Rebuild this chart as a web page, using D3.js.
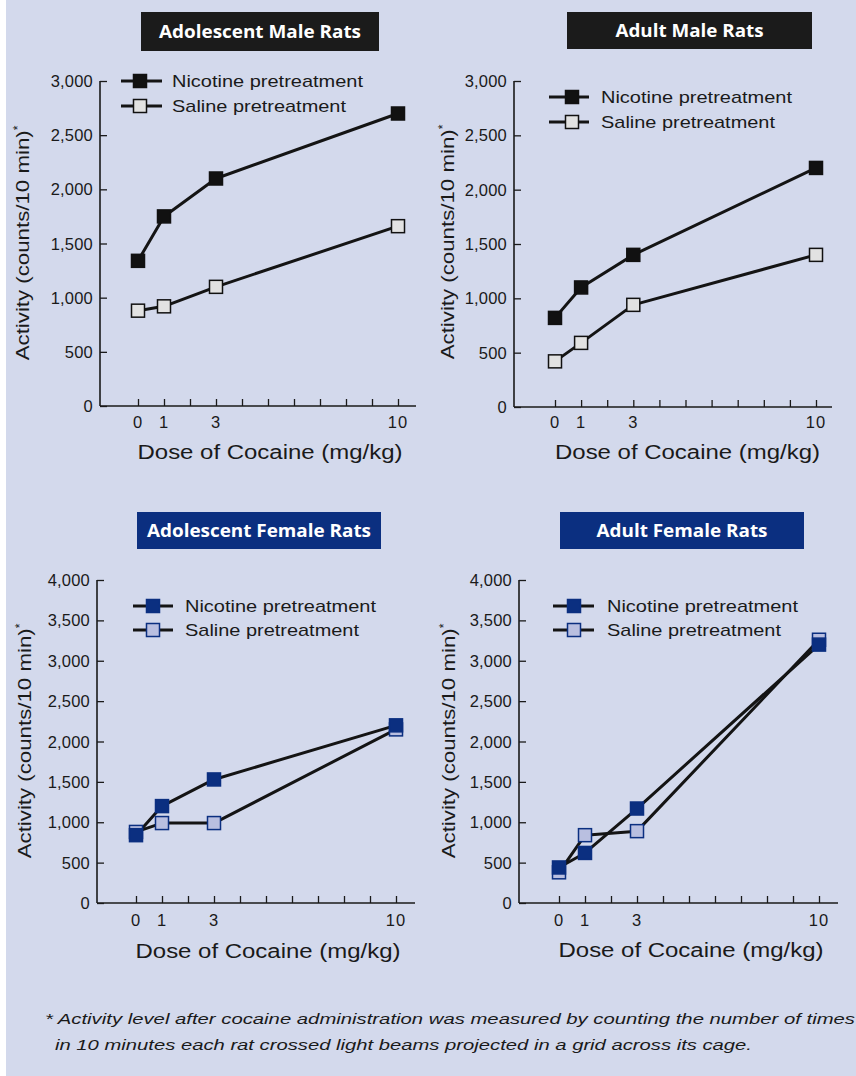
<!DOCTYPE html>
<html>
<head>
<meta charset="utf-8">
<script src="https://cdn.jsdelivr.net/npm/d3@7"></script>
<style>
  html, body { margin: 0; padding: 0; background: #ffffff; }
  svg { display: block; }
  text { font-family: "Liberation Sans", Arial, Helvetica, sans-serif; }
</style>
</head>
<body>
<svg id="chart" width="856" height="1076"></svg>
<script>
// ---------------- DATA ----------------
const doses = [0, 1, 3, 10];
const xTickValues = [0, 1, 2, 3, 4, 5, 6, 7, 8, 9, 10];
const xTickLabels = [0, 1, 3, 10];
const yTicksMale = [0, 500, 1000, 1500, 2000, 2500, 3000];
const yTicksFemale = [0, 500, 1000, 1500, 2000, 2500, 3000, 3500, 4000];
const seriesNames = ["Nicotine pretreatment", "Saline pretreatment"];
const panelTitles = ["Adolescent Male Rats", "Adult Male Rats", "Adolescent Female Rats", "Adult Female Rats"];

const adolescentMaleNicotine = [1340, 1750, 2100, 2700];
const adolescentMaleSaline   = [880, 920, 1100, 1660];
const adultMaleNicotine      = [820, 1100, 1400, 2200];
const adultMaleSaline        = [420, 590, 940, 1400];
const adolescentFemaleNicotine = [840, 1200, 1530, 2200];
const adolescentFemaleSaline   = [880, 990, 990, 2150];
const adultFemaleNicotine    = [440, 620, 1170, 3200];
const adultFemaleSaline      = [380, 840, 890, 3260];

const yAxisTitle = "Activity (counts/10 min)";
const xAxisTitle = "Dose of Cocaine (mg/kg)";
const footnote = [
  "* Activity level after cocaine administration was measured by counting the number of times",
  "in 10 minutes each rat crossed light beams projected in a grid across its cage."
];

// ---------------- LAYOUT / STYLE ----------------
const BG = "#d3d9ec";
const maleStyle = { box: "#1b1b1b", nic: "#111111", nicStroke: "#111111", sal: "#e2e2e2", salStroke: "#111111" };
const femaleStyle = { box: "#0b2f80", nic: "#0b2f80", nicStroke: "#0b2f80", sal: "#b9bfe0", salStroke: "#0b2f80" };

const panels = [
  { title: panelTitles[0], nic: adolescentMaleNicotine, sal: adolescentMaleSaline, yTicks: yTicksMale, yMax: 3000, style: maleStyle,
    axisX: 100, x0: 138, x10: 398, axisEnd: 416, yTop: 81, yBot: 406,
    box: [141, 12, 238, 39], titleW: 202,
    leg: { x1: 121, x2: 162, mx: 140, y1: 81, y2: 106, tx: 172 },
    yLabX: 29, yLabY: 239, xLabY: 459, xTickY: 428 },
  { title: panelTitles[1], nic: adultMaleNicotine, sal: adultMaleSaline, yTicks: yTicksMale, yMax: 3000, style: maleStyle,
    axisX: 514, x0: 555, x10: 816, axisEnd: 832, yTop: 81, yBot: 407,
    box: [567, 12, 245, 37], titleW: 148,
    leg: { x1: 549, x2: 589, mx: 572, y1: 97, y2: 122, tx: 601 },
    yLabX: 454, yLabY: 238, xLabY: 459, xTickY: 428 },
  { title: panelTitles[2], nic: adolescentFemaleNicotine, sal: adolescentFemaleSaline, yTicks: yTicksFemale, yMax: 4000, style: femaleStyle,
    axisX: 97, x0: 136, x10: 396, axisEnd: 415, yTop: 580, yBot: 903,
    box: [137, 512, 244, 37], titleW: 224,
    leg: { x1: 133, x2: 173, mx: 153, y1: 606, y2: 630, tx: 185 },
    yLabX: 31, yLabY: 737, xLabY: 958, xTickY: 926 },
  { title: panelTitles[3], nic: adultFemaleNicotine, sal: adultFemaleSaline, yTicks: yTicksFemale, yMax: 4000, style: femaleStyle,
    axisX: 519, x0: 559, x10: 819, axisEnd: 838, yTop: 580, yBot: 903,
    box: [560, 512, 244, 37], titleW: 171,
    leg: { x1: 553, x2: 594, mx: 574, y1: 606, y2: 630, tx: 607 },
    yLabX: 455, yLabY: 737, xLabY: 957, xTickY: 926 }
];

const svg = d3.select("#chart");
svg.append("rect").attr("x", 6).attr("y", 0).attr("width", 850).attr("height", 1076).attr("fill", BG);

const MS = 13; // marker size

function drawPanel(p) {
  const g = svg.append("g");
  const x = d3.scaleLinear().domain([0, 10]).range([p.x0, p.x10]);
  const y = d3.scaleLinear().domain([0, p.yMax]).range([p.yBot, p.yTop]);

  // Title box
  g.append("rect").attr("x", p.box[0]).attr("y", p.box[1]).attr("width", p.box[2]).attr("height", p.box[3])
    .attr("fill", p.style.box);
  g.append("text").attr("x", p.box[0] + p.box[2] / 2).attr("y", p.box[1] + p.box[3] / 2 + 6.5)
    .attr("text-anchor", "middle").attr("fill", "#ffffff")
    .style("font-family", "'Liberation Sans Narrow', 'Open Sans', Arial, sans-serif")
    .style("font-weight", "bold").style("font-size", "18.5px")
    .attr("textLength", p.titleW).attr("lengthAdjust", "spacingAndGlyphs")
    .text(p.title);

  // Y axis
  const yAxis = d3.axisRight(y).tickValues(p.yTicks).tickSize(7).tickFormat("");
  const yg = g.append("g").attr("transform", `translate(${p.axisX},0)`).call(yAxis);
  yg.select(".domain").remove();
  yg.selectAll("line").attr("stroke", "#1a1a1a").attr("stroke-width", 1.3);
  g.append("line").attr("x1", p.axisX).attr("x2", p.axisX).attr("y1", y(p.yMax)).attr("y2", p.yBot)
    .attr("stroke", "#1a1a1a").attr("stroke-width", 1.6);
  g.selectAll(".ylab").data(p.yTicks).join("text")
    .attr("x", p.axisX - 7).attr("y", d => y(d) + 6).attr("text-anchor", "end")
    .attr("fill", "#1a1a1a").style("font-size", "16.5px").style("letter-spacing", "0.2px")
    .text(d => d3.format(",")(d));

  // X axis
  const xAxis = d3.axisTop(x).tickValues(xTickValues).tickSize(7).tickFormat("");
  const xg = g.append("g").attr("transform", `translate(0,${p.yBot})`).call(xAxis);
  xg.select(".domain").remove();
  xg.selectAll("line").attr("stroke", "#1a1a1a").attr("stroke-width", 1.3);
  g.append("line").attr("x1", p.axisX).attr("x2", p.axisEnd).attr("y1", p.yBot).attr("y2", p.yBot)
    .attr("stroke", "#1a1a1a").attr("stroke-width", 1.6);
  g.selectAll(".xlab").data(xTickLabels).join("text")
    .attr("x", d => x(d)).attr("y", p.xTickY).attr("text-anchor", "middle")
    .attr("fill", "#1a1a1a").style("font-size", "16.5px").style("letter-spacing", "1px")
    .text(d => d);

  // Axis titles
  g.append("text").attr("x", (p.x0 + p.x10) / 2 + 2).attr("y", p.xLabY).attr("text-anchor", "middle")
    .attr("fill", "#1a1a1a").style("font-size", "20px")
    .attr("textLength", 265).attr("lengthAdjust", "spacingAndGlyphs")
    .text(xAxisTitle);
  const yt = g.append("text").attr("transform", `translate(${p.yLabX},${p.yLabY + 4}) rotate(-90)`)
    .attr("text-anchor", "middle").attr("fill", "#1a1a1a").style("font-size", "18px");
  yt.append("tspan").attr("textLength", 230).attr("lengthAdjust", "spacingAndGlyphs").text(yAxisTitle);
  yt.append("tspan").attr("dy", -7).style("font-size", "12px").text("*");

  // Lines
  const line = d3.line().x((d, i) => x(doses[i])).y(d => y(d));
  [p.sal, p.nic].forEach(vals => {
    g.append("path").datum(vals).attr("d", line).attr("fill", "none")
      .attr("stroke", "#141414").attr("stroke-width", 3).attr("stroke-linejoin", "round");
  });

  // Markers (saline first, nicotine on top)
  const series = [
    { vals: p.sal, fill: p.style.sal, stroke: p.style.salStroke },
    { vals: p.nic, fill: p.style.nic, stroke: p.style.nicStroke }
  ];
  series.forEach(s => {
    g.selectAll(null).data(s.vals).join("rect")
      .attr("x", (d, i) => x(doses[i]) - MS / 2).attr("y", d => y(d) - MS / 2)
      .attr("width", MS).attr("height", MS)
      .attr("fill", s.fill).attr("stroke", s.stroke).attr("stroke-width", 1.5);
  });

  // Legend
  const legItems = [
    { name: seriesNames[0], fill: p.style.nic, stroke: p.style.nicStroke, y: p.leg.y1 },
    { name: seriesNames[1], fill: p.style.sal, stroke: p.style.salStroke, y: p.leg.y2 }
  ];
  legItems.forEach(it => {
    g.append("line").attr("x1", p.leg.x1).attr("x2", p.leg.x2).attr("y1", it.y).attr("y2", it.y)
      .attr("stroke", "#141414").attr("stroke-width", 3);
    g.append("rect").attr("x", p.leg.mx - MS / 2).attr("y", it.y - MS / 2).attr("width", MS).attr("height", MS)
      .attr("fill", it.fill).attr("stroke", it.stroke).attr("stroke-width", 1.5);
    g.append("text").attr("x", p.leg.tx).attr("y", it.y + 6).attr("fill", "#1a1a1a")
      .style("font-size", "17px")
      .attr("textLength", it.name === seriesNames[0] ? 191 : 174).attr("lengthAdjust", "spacingAndGlyphs")
      .text(it.name);
  });
}

panels.forEach(drawPanel);

// Footnote
svg.append("text").attr("x", 45).attr("y", 1024).attr("fill", "#1a1a1a")
  .style("font-size", "15.5px").style("font-style", "italic")
  .attr("textLength", 810).attr("lengthAdjust", "spacingAndGlyphs")
  .text(footnote[0]);
svg.append("text").attr("x", 55).attr("y", 1050).attr("fill", "#1a1a1a")
  .style("font-size", "15.5px").style("font-style", "italic")
  .attr("textLength", 697).attr("lengthAdjust", "spacingAndGlyphs")
  .text(footnote[1]);
</script>
</body>
</html>
